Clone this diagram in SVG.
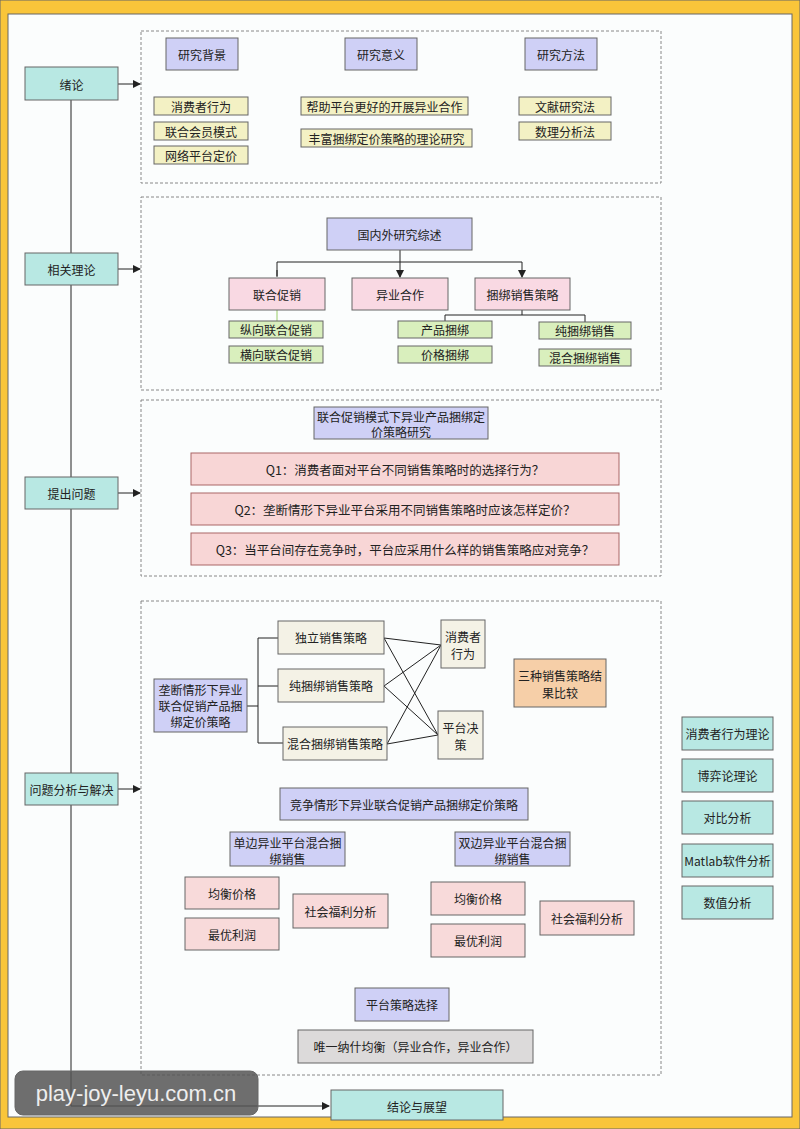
<svg xmlns="http://www.w3.org/2000/svg" width="800" height="1129" viewBox="0 0 800 1129">
<defs>
<marker id="ar" markerWidth="8" markerHeight="8" refX="7" refY="4" orient="auto" markerUnits="userSpaceOnUse"><path d="M0,0 L8,4 L0,8 z" fill="#222"/></marker>
<style>
text{font-family:"Noto Sans CJK SC","Noto Sans",sans-serif;font-size:12px;fill:#222;text-anchor:middle;dominant-baseline:central}
.q{font-family:"Noto Sans CJK SC",serif;font-size:12.5px}
rect{stroke:#666;stroke-width:1}
.cy{fill:#b8e8e3}.lv{fill:#cfd0f6}.yl{fill:#f3f1c4}.pk{fill:#f9d9e3}.gr{fill:#d9efbd}.qb{fill:#f8d6d6;stroke:#a66}
.bg{fill:#f4f2e6}.or{fill:#f6cfa8}.gy{fill:#dcdada}.pr{fill:#f8dada}
.ds{fill:none;stroke:#888;stroke-dasharray:3 2}
.ln{stroke:#222;stroke-width:1;fill:none}
</style>
</defs>
<rect x="0" y="0" width="800" height="1129" fill="#f9c53a" stroke="none"/>
<rect x="8" y="14" width="784" height="1103" fill="#fbfdfd" stroke="none"/>
<g id="containers">
<rect class="ds" x="141" y="31" width="520" height="152"/>
<rect class="ds" x="141" y="197" width="520" height="193"/>
<rect class="ds" x="141" y="400" width="520" height="176"/>
<rect class="ds" x="141" y="601" width="520" height="474"/>
</g>
<g id="connectors">
<path class="ln" d="M71,100 V1106 H329" marker-end="url(#ar)"/>
<path class="ln" d="M118,84 H140" marker-end="url(#ar)"/>
<path class="ln" d="M118,269 H140" marker-end="url(#ar)"/>
<path class="ln" d="M118,493 H140" marker-end="url(#ar)"/>
<path class="ln" d="M118,789 H140" marker-end="url(#ar)"/>
<path class="ln" d="M400,250 V277"  marker-end="url(#ar)"/>
<path class="ln" d="M277,262 H522 M277,262 V276 M522,262 V276"/>
<path class="ln" d="M277,270 V277 M522,270 V277" marker-end="url(#ar)"/>
<path d="M277,310 V321" stroke="#9c6" fill="none"/>
<path class="ln" d="M522,310 V315 M445,315 H585 M445,315 V321 M585,315 V322"/>
<path class="ln" d="M247,706 H258 M258,638 V743 M258,638 H278 M258,686 H278 M258,743 H283"/>
<path class="ln" d="M384,638 L441,645 M384,638 L438,735 M384,686 L441,645 M384,686 L438,735 M387,744 L441,645 M387,744 L438,735"/>
</g>
<g id="n1"><rect class="cy" x="25" y="67" width="93" height="33"/><text x="71.5" y="84">绪论</text></g>
<g id="n2"><rect class="cy" x="25" y="253" width="93" height="32"/><text x="71.5" y="269">相关理论</text></g>
<g id="n3"><rect class="cy" x="25" y="477" width="93" height="32"/><text x="71.5" y="493">提出问题</text></g>
<g id="n4"><rect class="cy" x="25" y="773" width="93" height="32"/><text x="71.5" y="789">问题分析与解决</text></g>
<g id="n5"><rect class="cy" x="331" y="1090" width="172" height="30"/><text x="417" y="1106">结论与展望</text></g>
<g id="s1">
<rect class="lv" x="166" y="38" width="72" height="32"/><text x="202" y="54">研究背景</text>
<rect class="lv" x="345" y="38" width="72" height="32"/><text x="381" y="54">研究意义</text>
<rect class="lv" x="525" y="38" width="72" height="32"/><text x="561" y="54">研究方法</text>
<rect class="yl" x="154" y="97" width="94" height="18"/><text x="201" y="106">消费者行为</text>
<rect class="yl" x="154" y="122" width="94" height="18"/><text x="201" y="131">联合会员模式</text>
<rect class="yl" x="154" y="146" width="94" height="18"/><text x="201" y="155">网络平台定价</text>
<rect class="yl" x="301" y="97" width="167" height="18"/><text x="384.5" y="106">帮助平台更好的开展异业合作</text>
<rect class="yl" x="301" y="129" width="171" height="18"/><text x="386.5" y="138">丰富捆绑定价策略的理论研究</text>
<rect class="yl" x="519" y="97" width="92" height="18"/><text x="565" y="106">文献研究法</text>
<rect class="yl" x="519" y="122" width="92" height="18"/><text x="565" y="131">数理分析法</text>
</g>
<g id="s2">
<rect class="lv" x="327" y="218" width="145" height="32"/><text x="399.5" y="234">国内外研究综述</text>
<rect class="pk" x="229" y="278" width="96" height="32"/><text x="277" y="294">联合促销</text>
<rect class="pk" x="352" y="278" width="96" height="32"/><text x="400" y="294">异业合作</text>
<rect class="pk" x="475" y="278" width="95" height="32"/><text x="522.5" y="294">捆绑销售策略</text>
<rect class="gr" x="229" y="321" width="94" height="17"/><text x="276" y="329.5">纵向联合促销</text>
<rect class="gr" x="229" y="346" width="94" height="17"/><text x="276" y="354.5">横向联合促销</text>
<rect class="gr" x="398" y="321" width="94" height="17"/><text x="445" y="329.5">产品捆绑</text>
<rect class="gr" x="398" y="346" width="94" height="17"/><text x="445" y="354.5">价格捆绑</text>
<rect class="gr" x="539" y="322" width="92" height="17"/><text x="585" y="330.5">纯捆绑销售</text>
<rect class="gr" x="539" y="349" width="92" height="17"/><text x="585" y="357.5">混合捆绑销售</text>
</g>
<g id="s3">
<rect class="lv" x="314" y="407" width="174" height="32"/><text x="401" y="416">联合促销模式下异业产品捆绑定</text><text x="401" y="431">价策略研究</text>
<rect class="qb" x="191" y="453" width="428" height="32"/><text class="q" x="405" y="469">Q1：消费者面对平台不同销售策略时的选择行为？</text>
<rect class="qb" x="191" y="493" width="428" height="32"/><text class="q" x="405" y="509">Q2：垄断情形下异业平台采用不同销售策略时应该怎样定价？</text>
<rect class="qb" x="191" y="533" width="428" height="32"/><text class="q" x="405" y="549">Q3：当平台间存在竞争时，平台应采用什么样的销售策略应对竞争？</text>
</g>
<g id="s4">
<rect class="lv" x="154" y="679" width="93" height="53"/><text x="200.5" y="689">垄断情形下异业</text><text x="200.5" y="705">联合促销产品捆</text><text x="200.5" y="721">绑定价策略</text>
<rect class="bg" x="278" y="621" width="106" height="33"/><text x="331" y="637.5">独立销售策略</text>
<rect class="bg" x="278" y="669" width="106" height="33"/><text x="331" y="685.5">纯捆绑销售策略</text>
<rect class="bg" x="283" y="727" width="104" height="33"/><text x="335" y="743.5">混合捆绑销售策略</text>
<rect class="bg" x="441" y="620" width="44" height="48"/><text x="463" y="636">消费者</text><text x="463" y="653">行为</text>
<rect class="bg" x="438" y="711" width="45" height="48"/><text x="460.5" y="727">平台决</text><text x="460.5" y="744">策</text>
<rect class="or" x="514" y="659" width="92" height="48"/><text x="560" y="675">三种销售策略结</text><text x="560" y="692">果比较</text>
<rect class="lv" x="280" y="788" width="248" height="32"/><text x="404" y="804">竞争情形下异业联合促销产品捆绑定价策略</text>
<rect class="lv" x="230" y="832" width="115" height="34"/><text x="287.5" y="842">单边异业平台混合捆</text><text x="287.5" y="858">绑销售</text>
<rect class="lv" x="455" y="832" width="115" height="34"/><text x="512.5" y="842">双边异业平台混合捆</text><text x="512.5" y="858">绑销售</text>
<rect class="pr" x="185" y="877" width="94" height="32"/><text x="232" y="893">均衡价格</text>
<rect class="pr" x="185" y="918" width="94" height="32"/><text x="232" y="934">最优利润</text>
<rect class="pr" x="293" y="894" width="95" height="34"/><text x="340.5" y="911">社会福利分析</text>
<rect class="pr" x="431" y="882" width="94" height="33"/><text x="478" y="898.5">均衡价格</text>
<rect class="pr" x="431" y="924" width="94" height="33"/><text x="478" y="940.5">最优利润</text>
<rect class="pr" x="540" y="901" width="94" height="34"/><text x="587" y="918">社会福利分析</text>
<rect class="lv" x="355" y="988" width="94" height="33"/><text x="402" y="1004.5">平台策略选择</text>
<rect class="gy" x="298" y="1030" width="235" height="33"/><text x="415.5" y="1046.5">唯一纳什均衡（异业合作，异业合作）</text>
</g>
<g id="right">
<rect class="cy" x="682" y="717" width="91" height="33"/><text x="727.5" y="733.5">消费者行为理论</text>
<rect class="cy" x="682" y="759" width="91" height="33"/><text x="727.5" y="775.5">博弈论理论</text>
<rect class="cy" x="682" y="801" width="91" height="33"/><text x="727.5" y="817.5">对比分析</text>
<rect class="cy" x="682" y="844" width="91" height="33"/><text x="727.5" y="860.5">Matlab软件分析</text>
<rect class="cy" x="682" y="886" width="91" height="33"/><text x="727.5" y="902.5">数值分析</text>
</g>
<g id="watermark">
<rect x="15" y="1071" width="243" height="44" rx="8" fill="#555" fill-opacity="0.85" stroke="none"/>
<text x="136" y="1093" style="font-family:'Liberation Sans',sans-serif;font-size:22px;fill:#eee">play-joy-leyu.com.cn</text>
</g>
</svg>
